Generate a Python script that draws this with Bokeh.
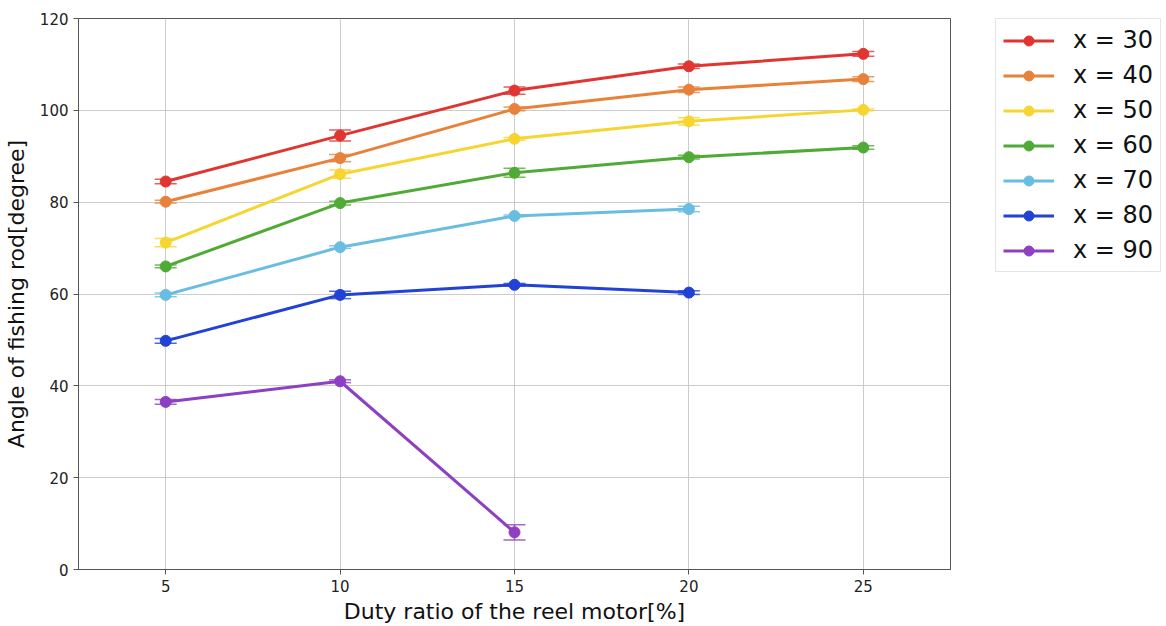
from bokeh.plotting import figure
from bokeh.layouts import row
from bokeh.models import ColumnDataSource, Whisker, Legend, LegendItem, FixedTicker, Range1d
from bokeh.embed import file_html
from bokeh.resources import INLINE

duty = [5, 10, 15, 20, 25]
labels = ["x = 30", "x = 40", "x = 50", "x = 60", "x = 70", "x = 80", "x = 90"]
colors = ["#e03530", "#e8823a", "#f7d531", "#4fab35", "#68bde0", "#2142d4", "#8e3fc2"]

angle_30 = [84.5, 94.5, 104.3, 109.6, 112.3]
angle_40 = [80.1, 89.6, 100.3, 104.5, 106.8]
angle_50 = [71.2, 86.1, 93.8, 97.6, 100.1]
angle_60 = [66.0, 79.8, 86.4, 89.8, 91.9]
angle_70 = [59.8, 70.2, 77.0, 78.5]
angle_80 = [49.8, 59.8, 62.0, 60.3]
angle_90 = [36.5, 41.0, 8.1]

err_30 = [0.5, 1.2, 0.8, 0.5, 0.5]
err_40 = [0.3, 0.8, 0.4, 0.6, 0.5]
err_50 = [0.9, 0.9, 0.3, 0.8, 0.2]
err_60 = [0.3, 0.4, 1.0, 0.4, 0.4]
err_70 = [0.4, 0.3, 0.2, 0.6]
err_80 = [0.5, 0.8, 0.3, 0.4]
err_90 = [0.5, 0.3, 1.65]

series = [angle_30, angle_40, angle_50, angle_60, angle_70, angle_80, angle_90]
errors = [err_30, err_40, err_50, err_60, err_70, err_80, err_90]

p = figure(width=990, height=626, output_backend="svg", toolbar_location=None,
           x_range=Range1d(2.5, 27.5), y_range=Range1d(0, 120),
           min_border_left=78, min_border_right=40, min_border_top=17, min_border_bottom=55)

p.outline_line_color = "#555555"
p.outline_line_width = 1
p.background_fill_color = "white"

# legend-only figure (its renderers hold the same data but lie outside its view)
lg = figure(width=176, height=626, output_backend="svg", toolbar_location=None,
            x_range=Range1d(0, 1), y_range=Range1d(0, 1),
            min_border_left=5, min_border_top=18, min_border_right=0, min_border_bottom=0,
            outline_line_color=None)
lg.axis.visible = False
lg.grid.visible = False

items = []
for lab, col, ys, es in zip(labels, colors, series, errors):
    xs = duty[:len(ys)]
    src = ColumnDataSource(dict(x=xs, y=ys,
                                lo=[y - e for y, e in zip(ys, es)],
                                hi=[y + e for y, e in zip(ys, es)]))
    w = Whisker(source=src, base="x", lower="lo", upper="hi",
                line_color=col, line_width=1.5, line_alpha=0.8)
    w.upper_head.size = 22
    w.lower_head.size = 22
    w.upper_head.line_color = col
    w.lower_head.line_color = col
    w.upper_head.line_width = 1.5
    w.lower_head.line_width = 1.5
    w.upper_head.line_alpha = 0.8
    w.lower_head.line_alpha = 0.8
    p.add_layout(w)
    p.line("x", "y", source=src, line_color=col, line_width=3)
    p.scatter("x", "y", source=src, size=11, fill_color=col, line_color=col)
    l1 = lg.line("x", "y", source=src, line_color=col, line_width=3)
    l2 = lg.scatter("x", "y", source=src, size=8, fill_color=col, line_color=col)
    items.append(LegendItem(label=lab, renderers=[l1, l2]))

p.xaxis.ticker = FixedTicker(ticks=duty)
p.yaxis.ticker = FixedTicker(ticks=[0, 20, 40, 60, 80, 100, 120])
p.xgrid.ticker = FixedTicker(ticks=duty)
p.ygrid.ticker = FixedTicker(ticks=[0, 20, 40, 60, 80, 100, 120])
p.grid.grid_line_color = "#cccccc"
p.grid.grid_line_width = 1

for ax in (p.xaxis, p.yaxis):
    ax.axis_line_color = "#555555"
    ax.major_tick_line_color = "#555555"
    ax.major_tick_out = 5
    ax.major_tick_in = 0
    ax.minor_tick_line_color = None
    ax.major_label_text_font = "DejaVu Sans"
    ax.major_label_text_font_size = "15px"
    ax.major_label_text_color = "#222222"
    ax.axis_label_text_font = "DejaVu Sans"
    ax.axis_label_text_font_size = "22px"
    ax.axis_label_text_font_style = "normal"
    ax.axis_label_text_color = "#111111"

p.xaxis.axis_label = "Duty ratio of the reel motor[%]"
p.yaxis.axis_label = "Angle of fishing rod[degree]"
p.xaxis.axis_label_standoff = 4
p.yaxis.axis_label_standoff = 8

legend = Legend(items=items, location="top_left",
                label_text_font="DejaVu Sans", label_text_font_size="24px",
                label_text_color="#111111",
                glyph_width=51, glyph_height=25, label_standoff=19,
                spacing=7, padding=7, margin=0,
                border_line_color="#cccccc", border_line_width=1,
                background_fill_alpha=1)
lg.add_layout(legend)

layout = row(p, lg)
open("out.html", "w").write(file_html(layout, INLINE))
